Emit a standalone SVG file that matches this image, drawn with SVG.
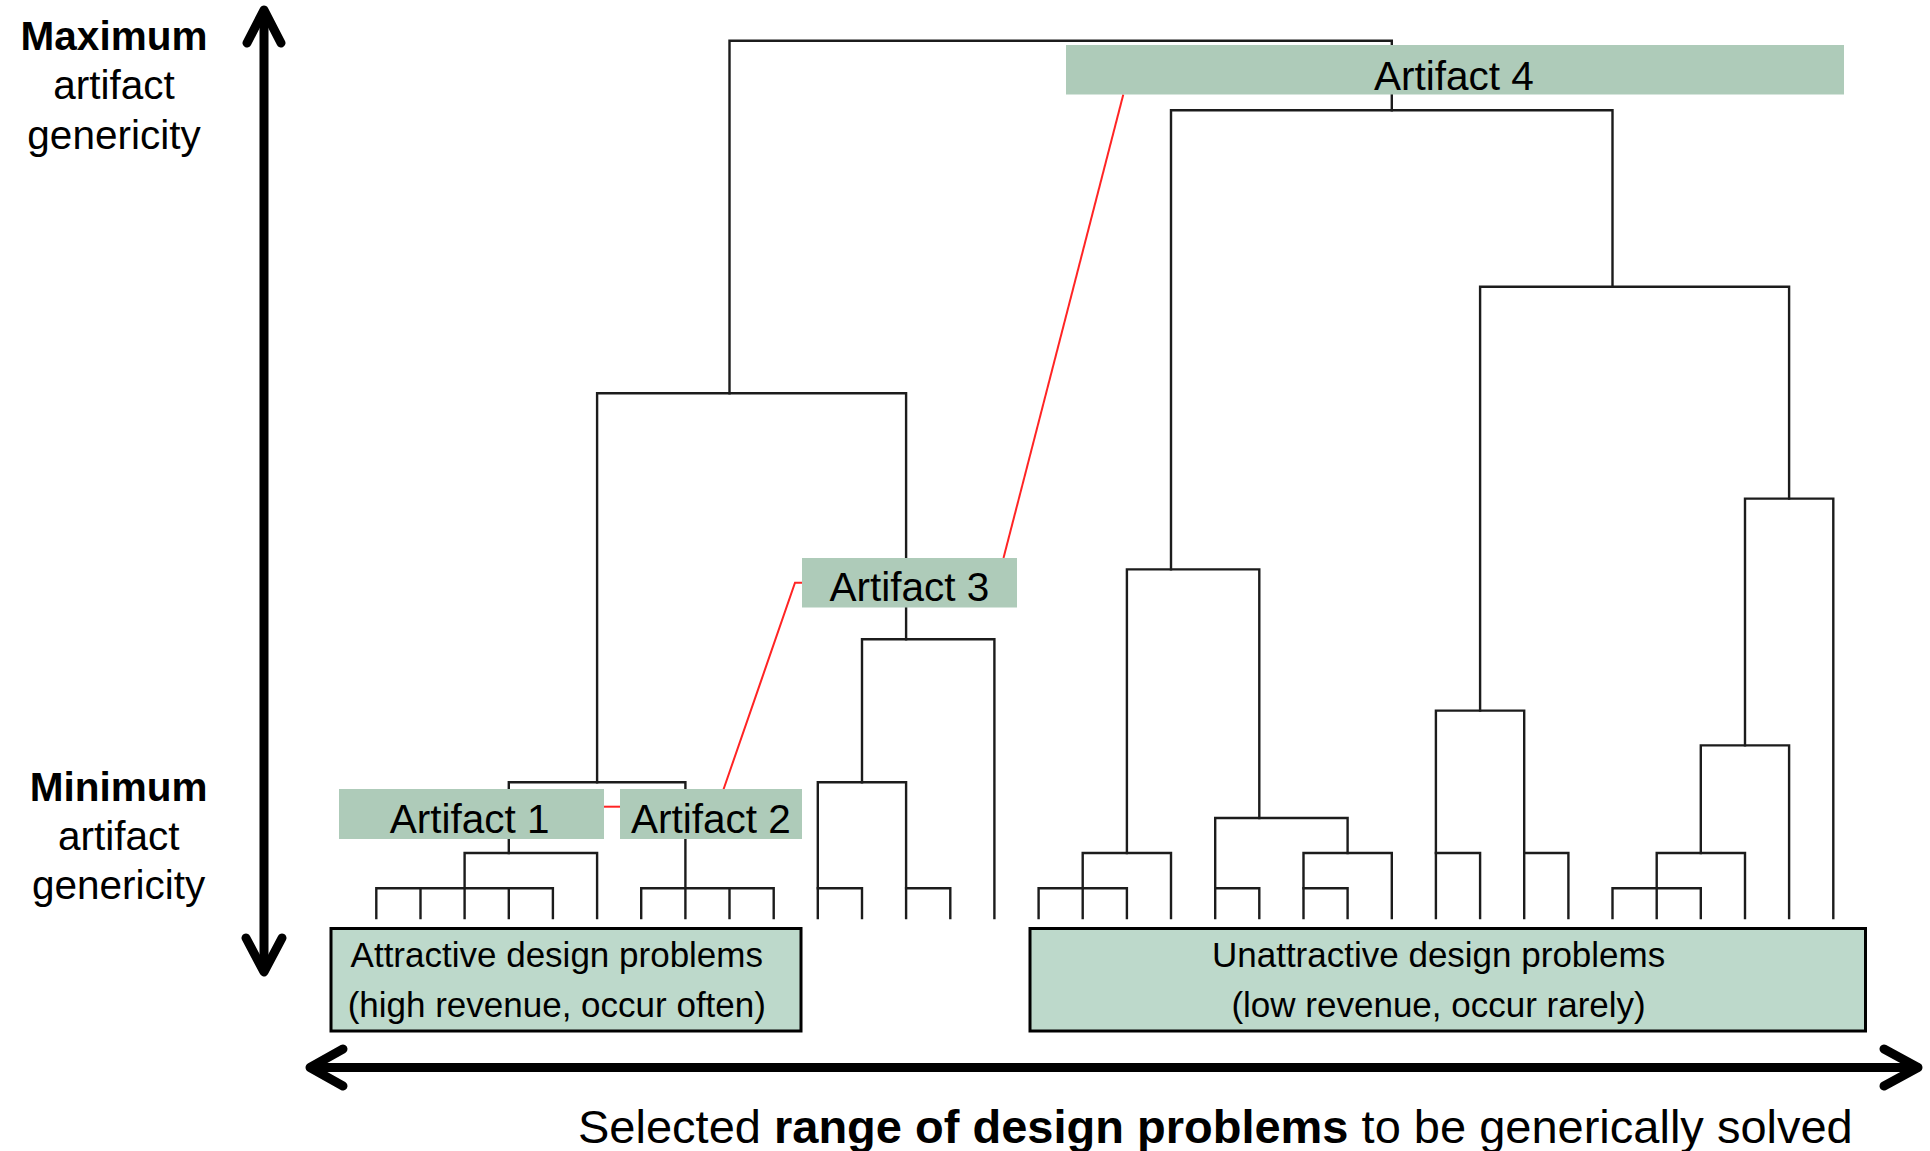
<svg xmlns="http://www.w3.org/2000/svg" width="1930" height="1151" viewBox="0 0 1930 1151">
  <style>
    .tree { fill: none; stroke: #1c1c1c; stroke-width: 2.4; stroke-linecap: square; }
    .link { fill: none; stroke: #ff2424; stroke-width: 2; }
    .axis { fill: none; stroke: #000; stroke-width: 9; stroke-linecap: round; stroke-linejoin: round; }
    .artifact rect { fill: #aecbb9; }
    .problems rect { fill: #bdd9cb; stroke: #000; stroke-width: 3; }
    text { font-family: "Liberation Sans", Arial, sans-serif; fill: #000; }
    .art-label { font-size: 40.5px; text-anchor: middle; }
    .prob-label { font-size: 35px; text-anchor: middle; }
    .axis-label { font-size: 40.5px; text-anchor: middle; }
    .b { font-weight: bold; }
  </style>

  <!-- axes -->
  <g id="axis-genericity">
    <path class="axis" d="M264 12 V970"/>
    <path class="axis" d="M247 43 L264 10 L281 43"/>
    <path class="axis" d="M246 938 L264 972 L282 938"/>
  </g>
  <g id="axis-range">
    <path class="axis" d="M312 1067.5 H1917"/>
    <path class="axis" d="M343 1049 L310 1067.5 L343 1086"/>
    <path class="axis" d="M1884 1049 L1918 1067.5 L1884 1086"/>
  </g>

  <g id="label-max">
    <text class="axis-label" x="114" y="50"><tspan class="b">Maximum</tspan></text>
    <text class="axis-label" x="114" y="99">artifact</text>
    <text class="axis-label" x="114" y="148.5">genericity</text>
  </g>
  <g id="label-min">
    <text class="axis-label" x="118.7" y="801"><tspan class="b">Minimum</tspan></text>
    <text class="axis-label" x="118.7" y="850">artifact</text>
    <text class="axis-label" x="118.7" y="899">genericity</text>
  </g>

  <!-- dendrogram and artifact links -->
  <g id="connectors">
    <g class="tree">
      <!-- left cluster -->
      <path d="M376.3 918 V888.3 H552.9 V918"/>
      <path d="M420.5 918 V888.3 M508.8 918 V888.3"/>
      <path d="M464.6 918 V853 H597.1 V918"/>
      <path d="M508.8 853 V782.3 H685.4 V918"/>
      <path d="M641.2 918 V888.3 H773.7 V918 M729.5 918 V888.3"/>
      <path d="M597.1 782.3 V393.3 H906.1 V639.3"/>
      <!-- artifact 3 cluster -->
      <path d="M817.8 918 V782.3 H906.1 V918"/>
      <path d="M817.8 888.3 H862 V918 M906.1 888.3 H950.3 V918"/>
      <path d="M862 782.3 V639.3 H994.4 V918"/>
      <!-- root -->
      <path d="M729.5 393.3 V40.8 H1391.8 V110.3"/>
      <path d="M1171 569.4 V110.3 H1612.5 V286.7"/>
      <!-- right clusters -->
      <path d="M1038.6 918 V888.3 H1126.9 V918"/>
      <path d="M1082.7 918 V853 H1171 V918"/>
      <path d="M1126.9 853 V569.4 H1259.3 V818"/>
      <path d="M1215.2 918 V818 H1347.6 V853"/>
      <path d="M1215.2 888.3 H1259.3 V918"/>
      <path d="M1303.5 918 V853 H1391.8 V918"/>
      <path d="M1303.5 888.3 H1347.6 V918"/>
      <path d="M1435.9 918 V710.6 H1524.2 V918"/>
      <path d="M1435.9 853 H1480.1 V918 M1524.2 853 H1568.4 V918"/>
      <path d="M1480.1 710.6 V286.7 H1789.1 V498.6"/>
      <path d="M1612.5 918 V888.3 H1700.8 V918"/>
      <path d="M1656.7 918 V853 H1745 V918"/>
      <path d="M1700.8 853 V745.4 H1789.1 V918"/>
      <path d="M1745 745.4 V498.6 H1833.3 V918"/>
    </g>
    <g class="link">
      <path d="M603 806.7 H621"/>
      <path d="M723.3 790 L795 582.7 H803"/>
      <path d="M1003.5 558 L1123.3 94.5"/>
    </g>
  </g>

  <!-- artifacts -->
  <g id="artifact-1" class="artifact">
    <rect x="339" y="789" width="265" height="50"/>
    <text class="art-label" x="469.6" y="833">Artifact 1</text>
  </g>
  <g id="artifact-2" class="artifact">
    <rect x="620" y="789" width="182" height="50"/>
    <text class="art-label" x="710.8" y="833">Artifact 2</text>
  </g>
  <g id="artifact-3" class="artifact">
    <rect x="802" y="558" width="215" height="49.5"/>
    <text class="art-label" x="909.4" y="600.5">Artifact 3</text>
  </g>
  <g id="artifact-4" class="artifact">
    <rect x="1066" y="45" width="778" height="49.5"/>
    <text class="art-label" x="1454" y="90">Artifact 4</text>
  </g>

  <!-- design problem groups -->
  <g id="problems-attractive" class="problems">
    <rect x="331" y="928.5" width="470" height="102.5"/>
    <text class="prob-label" x="556.8" y="966.7">Attractive design problems</text>
    <text class="prob-label" x="556.8" y="1016.5">(high revenue, occur often)</text>
  </g>
  <g id="problems-unattractive" class="problems">
    <rect x="1030" y="928.5" width="835.5" height="102.5"/>
    <text class="prob-label" x="1438.6" y="966.7">Unattractive design problems</text>
    <text class="prob-label" x="1438.6" y="1016.5">(low revenue, occur rarely)</text>
  </g>

  <g id="label-range">
    <text x="578" y="1143" font-size="47">Selected <tspan class="b">range of design problems</tspan> to be generically solved</text>
  </g>
</svg>
